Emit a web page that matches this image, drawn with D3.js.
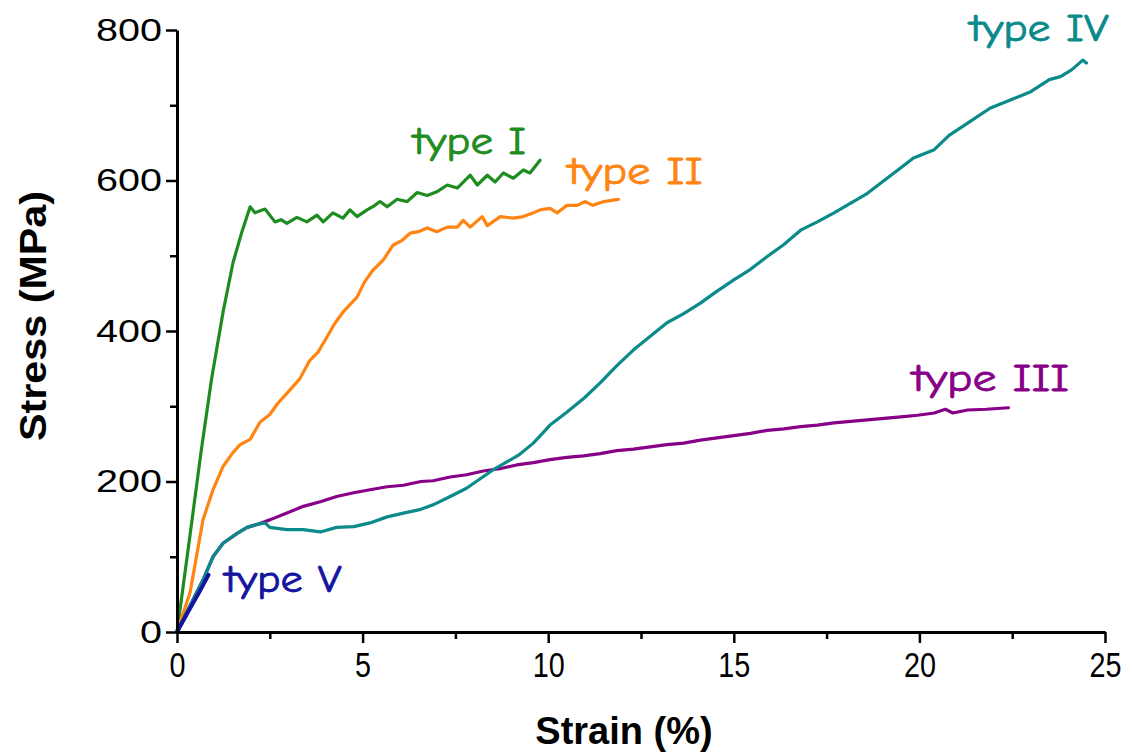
<!DOCTYPE html>
<html>
<head>
<meta charset="utf-8">
<script src="https://cdn.jsdelivr.net/npm/d3@7"></script>
<style>
  body { margin: 0; background: #fff; }
  svg { display: block; }
</style>
</head>
<body>
<div id="chart"></div>
<script>
// 数据：应变 (%) / 应力 (MPa)
const typeI = [[0,0],[0.3,110],[0.65,240],[0.93,336],[1.24,425],[1.51,491],[1.75,532],[1.97,565],[2.1,557],[2.37,562],[2.64,545],[2.8,548],[2.96,543],[3.23,551],[3.5,545],[3.77,554],[3.94,545],[4.2,557],[4.47,550],[4.66,561],[4.85,552],[5.12,561],[5.3,566],[5.47,572],[5.66,565],[5.93,575],[6.2,572],[6.47,584],[6.74,580],[7.0,585],[7.28,594],[7.55,590],[7.9,607],[8.09,594],[8.36,607],[8.57,598],[8.79,610],[9.06,603],[9.33,614],[9.51,610],[9.78,627]];
const typeII = [[0,0],[0.35,52],[0.7,149],[0.97,189],[1.24,220],[1.5,238],[1.7,249],[1.97,256],[2.24,279],[2.5,289],[2.7,303],[3.05,322],[3.3,336],[3.58,361],[3.8,372],[4.04,392],[4.25,410],[4.47,425],[4.85,445],[5.05,465],[5.28,481],[5.55,494],[5.82,514],[6.05,520],[6.28,530],[6.5,532],[6.74,537],[7.0,532],[7.28,538],[7.55,538],[7.71,547],[7.9,538],[8.22,552],[8.36,540],[8.71,552],[9.06,550],[9.33,552],[9.55,556],[9.78,561],[10.05,563],[10.24,557],[10.51,567],[10.78,567],[11.0,572],[11.2,567],[11.5,572],[11.75,574],[11.89,575]];
const typeIII = [[0,0],[0.35,35],[0.7,69],[0.97,100],[1.24,118],[1.62,131],[1.89,139],[2.16,143],[2.5,149],[2.96,158],[3.4,167],[3.86,173],[4.3,180],[4.76,185],[5.2,189],[5.66,193],[6.1,195],[6.57,200],[6.9,201],[7.36,206],[7.8,209],[8.25,214],[8.7,217],[9.15,222],[9.6,225],[10.05,229],[10.5,232],[10.95,234],[11.4,237],[11.85,241],[12.3,243],[12.75,246],[13.2,249],[13.65,251],[14.1,255],[14.55,258],[15.0,261],[15.45,264],[15.9,268],[16.35,270],[16.8,273],[17.25,275],[17.7,278],[18.15,280],[18.6,282],[19.05,284],[19.5,286],[19.95,288],[20.4,291],[20.7,296],[20.9,291],[21.3,295],[21.8,296],[22.4,298]];
const typeIV = [[0,0],[0.35,35],[0.7,69],[0.97,100],[1.24,118],[1.62,131],[1.89,139],[2.16,143],[2.37,145],[2.5,139],[2.96,136],[3.4,136],[3.86,133],[4.3,139],[4.76,140],[5.2,145],[5.66,153],[6.1,158],[6.57,163],[6.9,169],[7.36,180],[7.8,191],[8.15,203],[8.5,215],[8.85,225],[9.2,235],[9.6,251],[10.05,275],[10.5,292],[10.97,311],[11.4,331],[11.85,354],[12.3,375],[12.75,393],[13.2,411],[13.65,423],[14.1,437],[14.55,453],[15.0,468],[15.45,482],[15.9,499],[16.35,515],[16.8,534],[17.25,545],[17.7,557],[18.15,570],[18.6,583],[19.05,600],[19.5,617],[19.84,630],[20.4,641],[20.8,660],[21.35,678],[21.9,696],[22.45,707],[23.0,718],[23.5,734],[23.8,738],[24.1,747],[24.4,760],[24.5,756]];
const typeV = [[0,0],[0.3,27],[0.6,53],[0.85,76]];

const seriesNames = ["type I", "type II", "type III", "type IV", "type V"];
const seriesData = [typeI, typeII, typeIII, typeIV, typeV];
const seriesColors = ["#1f8c1f", "#ff8412", "#880088", "#0a8a8a", "#1414a0"];
// 标签位置 (应变, 应力)，左下角
const labelPos = [[6.36, 635], [10.53, 595], [19.8, 320], [21.35, 786], [1.28, 53]];
const labelWidth = [113, 135, 157, 139, 117];

const xTicks = [0, 5, 10, 15, 20, 25];
const yTicks = [0, 200, 400, 600, 800];

// 画布
const W = 1132, H = 756;
const margin = {top: 30, right: 27, bottom: 124, left: 177};
const width = W - margin.left - margin.right,
      height = H - margin.top - margin.bottom;

const svg = d3.select("#chart").append("svg")
    .attr("width", W).attr("height", H);
const g = svg.append("g")
    .attr("transform", `translate(${margin.left},${margin.top})`);

const x = d3.scaleLinear().domain([0, 25]).range([0, width]);
const y = d3.scaleLinear().domain([0, 800]).range([height, 0]);

// 曲线
const line = d3.line().x(d => x(d[0])).y(d => y(d[1]));
seriesData.forEach((d, i) => {
    g.append("path")
        .datum(d)
        .attr("fill", "none")
        .attr("stroke", seriesColors[i])
        .attr("stroke-width", i === 4 ? 4 : 3.2)
        .attr("stroke-linejoin", "round")
        .attr("stroke-linecap", "round")
        .attr("d", line);
});

// 次刻度
g.append("g")
    .attr("transform", `translate(0,${height})`)
    .call(d3.axisBottom(x).tickValues([2.5, 7.5, 12.5, 17.5, 22.5]).tickSize(7).tickFormat(""))
    .call(a => a.select(".domain").remove())
    .selectAll("line").attr("stroke-width", 2.5);
g.append("g")
    .call(d3.axisLeft(y).tickValues([100, 300, 500, 700]).tickSize(7).tickFormat(""))
    .call(a => a.select(".domain").remove())
    .selectAll("line").attr("stroke-width", 2.5);

// X轴
const xAxisG = g.append("g")
    .attr("transform", `translate(0,${height})`)
    .call(d3.axisBottom(x).tickValues(xTicks).tickSize(11).tickSizeOuter(0).tickPadding(9));
xAxisG.select(".domain").attr("stroke-width", 3);
xAxisG.selectAll("line").attr("stroke-width", 2.5);
xAxisG.selectAll("text")
    .style("font-family", "'Liberation Sans', Arial, sans-serif")
    .style("font-size", "35px")
    .attr("textLength", d => String(d).length * 16)
    .attr("lengthAdjust", "spacingAndGlyphs")
    .attr("fill", "#000");

// Y轴
const yAxisG = g.append("g")
    .call(d3.axisLeft(y).tickValues(yTicks).tickSize(11).tickSizeOuter(0).tickPadding(4));
yAxisG.select(".domain").attr("stroke-width", 3);
yAxisG.selectAll("line").attr("stroke-width", 2.5);
yAxisG.selectAll("text")
    .style("font-family", "'Liberation Sans', Arial, sans-serif")
    .style("font-size", "32px")
    .attr("textLength", d => String(d).length * 22)
    .attr("lengthAdjust", "spacingAndGlyphs")
    .attr("fill", "#000");

// 轴标题
svg.append("text")
    .attr("x", margin.left + x(12.5) - 17)
    .attr("y", 744)
    .attr("text-anchor", "middle")
    .style("font-family", "'Liberation Sans', Arial, sans-serif")
    .style("font-weight", "bold")
    .style("font-size", "38px")
    .text("Strain (%)");

svg.append("text")
    .attr("transform", `translate(46,${margin.top + y(400) - 15}) rotate(-90)`)
    .attr("text-anchor", "middle")
    .style("font-family", "'Liberation Sans', Arial, sans-serif")
    .style("font-weight", "bold")
    .style("font-size", "37px")
    .attr("textLength", 250)
    .attr("lengthAdjust", "spacingAndGlyphs")
    .text("Stress (MPa)");

// 系列标签
seriesNames.forEach((name, i) => {
    g.append("text")
        .attr("x", x(labelPos[i][0]))
        .attr("y", y(labelPos[i][1]))
        .attr("fill", seriesColors[i])
        .attr("stroke", seriesColors[i])
        .attr("stroke-width", 0.8)
        .style("font-family", "'Comic Sans MS', 'Comic Neue', 'DejaVu Sans', sans-serif")
        .style("font-size", "38px")
        .attr("textLength", labelWidth[i])
        .attr("lengthAdjust", "spacingAndGlyphs")
        .text(name);
});
</script>
</body>
</html>
